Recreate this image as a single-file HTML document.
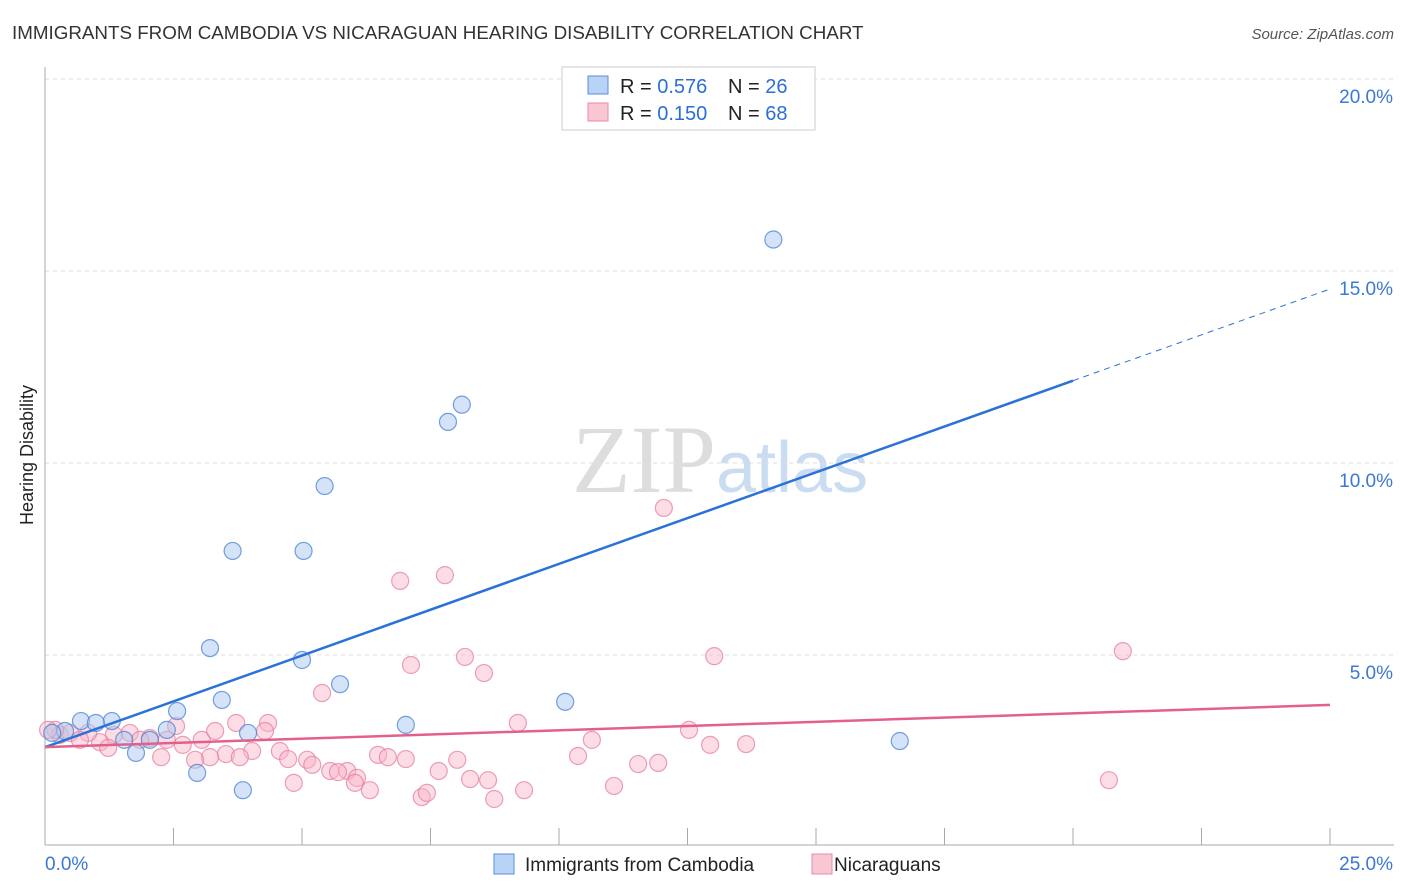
<!DOCTYPE html>
<html><head><meta charset="utf-8"><style>
body{margin:0;background:#fff;font-family:"Liberation Sans",sans-serif;}
svg{display:block}
</style></head><body>
<svg id="chart" width="1406" height="892" xmlns="http://www.w3.org/2000/svg">
<text x="12" y="39" font-size="18.8" fill="#333">IMMIGRANTS FROM CAMBODIA VS NICARAGUAN HEARING DISABILITY CORRELATION CHART</text>
<text x="1394" y="39" font-size="15" fill="#555" font-style="italic" text-anchor="end">Source: ZipAtlas.com</text>
<text x="716" y="492" font-size="96" fill="#ddd" text-anchor="end" font-family="Liberation Serif,serif">ZIP</text>
<text x="716" y="492" font-size="72" fill="#c9dcf2">atlas</text>
<text x="33" y="455" font-size="18" fill="#222" text-anchor="middle" transform="rotate(-90 33 455)">Hearing Disability</text>
<g id="grid"></g><g id="marks"></g>
<g>
<rect x="562" y="67" width="253" height="63" fill="#fff" stroke="#ccc"/>
<rect x="588" y="76" width="20" height="18" fill="#b8d3f5" stroke="#5b8fd6"/>
<rect x="588" y="103" width="20" height="18" fill="#f9c6d4" stroke="#e78aa6"/>
<text x="620" y="93" font-size="20" fill="#222">R = <tspan fill="#2a6fd6">0.576</tspan></text>
<text x="728" y="93" font-size="20" fill="#222">N = <tspan fill="#2a6fd6">26</tspan></text>
<text x="620" y="120" font-size="20" fill="#222">R = <tspan fill="#2a6fd6">0.150</tspan></text>
<text x="728" y="120" font-size="20" fill="#222">N = <tspan fill="#2a6fd6">68</tspan></text>
</g>
<g>
<rect x="494" y="854" width="20" height="20" fill="#b8d3f5" stroke="#5b8fd6"/>
<text x="525" y="871" font-size="19" fill="#222">Immigrants from Cambodia</text>
<rect x="812" y="854" width="20" height="20" fill="#f9c6d4" stroke="#e78aa6"/>
<text x="834" y="871" font-size="19" fill="#222">Nicaraguans</text>
</g>
</svg>
<script>
const xTicks=[0,2.5,5,7.5,10,12.5,15,17.5,20,22.5,25];
const yTicks=[5,10,15,20];
const yTickLabels=["5.0%","10.0%","15.0%","20.0%"];
const blueX=[14.17,8.11,7.84,5.44,3.65,5.03,3.21,5.0,5.74,3.44,10.12,2.57,7.02,0.70,1.30,0.99,0.39,2.37,3.95,2.04,1.54,1.77,16.63,2.96,3.85,0.14];
const blueY=[15.82,11.52,11.07,9.40,7.71,7.71,5.18,4.87,4.24,3.83,3.78,3.54,3.18,3.28,3.28,3.23,3.02,3.05,2.97,2.79,2.79,2.45,2.76,1.93,1.48,2.97];
const pinkX=[12.04,7.78,6.91,8.17,7.12,8.54,13.02,20.97,5.39,9.2,4.34,3.72,2.55,4.28,12.53,10.64,12.94,13.64,3.05,1.34,1.65,2.04,2.37,2.68,1.07,1.23,4.57,4.03,3.52,3.21,2.92,2.26,4.73,5.1,5.2,6.48,6.67,7.02,8.02,10.37,11.54,11.93,7.66,5.88,5.55,5.7,6.07,6.03,6.32,8.27,8.62,4.84,7.33,7.43,8.74,9.32,11.07,20.7,0.29,0.49,0.84,0.2,0.06,0.68,1.85,3.79,3.31];
const pinkY=[8.83,7.08,6.93,4.95,4.74,4.53,4.97,5.10,4.01,3.23,3.23,3.23,3.15,3.02,3.05,2.79,2.66,2.68,2.79,2.92,2.97,2.84,2.79,2.66,2.73,2.58,2.50,2.50,2.42,2.34,2.27,2.34,2.29,2.27,2.14,2.40,2.34,2.29,2.27,2.37,2.16,2.19,1.98,1.98,1.98,1.95,1.80,1.67,1.48,1.77,1.74,1.67,1.30,1.41,1.25,1.48,1.59,1.74,2.92,2.97,2.97,3.05,3.05,2.79,2.79,2.34,3.02];
const blueFit=[2.6,14.53];
const pinkFit=[2.6,3.70];
const X0=45,X1=1330,Y0=847,PX=38.4;
function sx(v){return X0+v/25*(X1-X0);}
function sy(v){return Y0-v*PX;}
const NS="http://www.w3.org/2000/svg";
function mk(t,a,p){const e=document.createElementNS(NS,t);for(const k in a)e.setAttribute(k,a[k]);p.appendChild(e);return e;}
const gridG=document.getElementById('grid'),marksG=document.getElementById('marks');
yTicks.forEach((t,i)=>{
 const g=mk('line',{x1:45,x2:1394,y1:sy(t),y2:sy(t),stroke:'#ddd','stroke-dasharray':'4,4'},gridG);
 
 
 const l=mk('text',{x:1393,y:sy(t)+24,'font-size':19,fill:'#3a78d4','text-anchor':'end'},gridG);
 l.textContent=yTickLabels[i];
 
 
});
const topLine=mk('line',{x1:45,x2:1394,y1:79,y2:79,stroke:'#ddd','stroke-dasharray':'4,4'},gridG);


const axX=mk('line',{x1:45,x2:1394,y1:845,y2:845,stroke:'#aaa'},gridG);


const axY=mk('line',{x1:45,x2:45,y1:67,y2:845,stroke:'#aaa'},gridG);


xTicks.forEach(t=>{if(t===0)return;
 const k=mk('line',{x1:sx(t),x2:sx(t),y1:828,y2:845,stroke:'#aaa'},gridG);
 
 
});
const xl0=mk('text',{x:45,y:870,'font-size':19,fill:'#3a78d4'},gridG);xl0.textContent='0.0%';


const xl1=mk('text',{x:1393,y:870,'font-size':19,fill:'#3a78d4','text-anchor':'end'},gridG);xl1.textContent='25.0%';


pinkX.forEach((x,i)=>{
 const c=mk('circle',{cx:sx(x),cy:sy(pinkY[i]),r:8.5,fill:'rgba(248,180,200,0.45)',stroke:'rgba(230,120,155,0.7)','stroke-width':1.2},marksG);
 
 
});
blueX.forEach((x,i)=>{
 const c=mk('circle',{cx:sx(x),cy:sy(blueY[i]),r:8.5,fill:'rgba(170,200,240,0.5)',stroke:'rgba(70,130,210,0.75)','stroke-width':1.2},marksG);
 
 
});
const xb=20;
const bs=mk('line',{x1:sx(0),y1:sy(blueFit[0]),x2:sx(xb),y2:sy(blueFit[0]+(blueFit[1]-blueFit[0])*xb/25),stroke:'#2a72d8','stroke-width':2.5},marksG);


const bd=mk('line',{x1:sx(xb),y1:sy(blueFit[0]+(blueFit[1]-blueFit[0])*xb/25),x2:sx(25),y2:sy(blueFit[1]),stroke:'#2a72d8','stroke-width':1,'stroke-dasharray':'6,5'},marksG);


const pl=mk('line',{x1:sx(0),y1:sy(pinkFit[0]),x2:sx(25),y2:sy(pinkFit[1]),stroke:'#e4608c','stroke-width':2.5},marksG);


</script>
</body></html>
